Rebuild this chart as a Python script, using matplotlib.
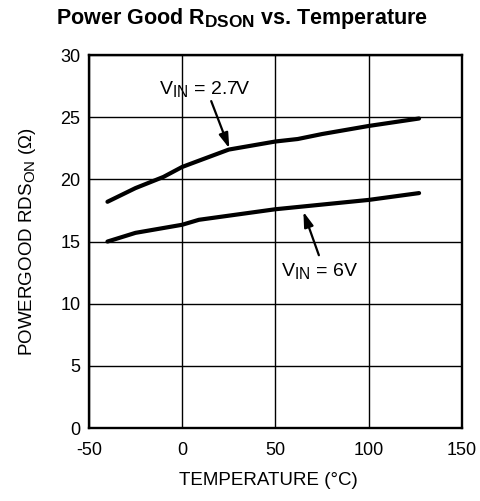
import matplotlib
matplotlib.use("Agg")
import matplotlib.pyplot as plt

try:
    # subscritos maiores, como no gráfico original
    import matplotlib._mathtext as _mt
    _mt.SHRINK_FACTOR = 0.8
except Exception:
    pass

plt.rcParams['font.family'] = ['Liberation Sans', 'DejaVu Sans']
plt.rcParams['mathtext.fontset'] = 'custom'
plt.rcParams['mathtext.rm'] = 'Liberation Sans'
plt.rcParams['mathtext.it'] = 'Liberation Sans'
plt.rcParams['mathtext.bf'] = 'Liberation Sans:bold'
plt.rcParams['axes.unicode_minus'] = False

# dados
temp = [-40, -25, -10, 0, 8, 25, 50, 62, 75, 100, 127]
rds_27v = [18.2, 19.3, 20.2, 21.0, 21.45, 22.4, 23.05, 23.25, 23.65, 24.3, 24.9]
temp_6v = [-40, -25, 0, 9, 50, 100, 127]
rds_6v = [15.0, 15.7, 16.35, 16.75, 17.6, 18.35, 18.9]

xticks = [-50, 0, 50, 100, 150]
yticks = [0, 5, 10, 15, 20, 25, 30]

fig = plt.figure(figsize=(4.8, 5.01), dpi=100)
ax = fig.add_axes([0.185, 0.1457, 0.7775, 0.7443])

ax.plot(temp, rds_27v, color='black', lw=3.0, solid_capstyle='round')
ax.plot(temp_6v, rds_6v, color='black', lw=3.0, solid_capstyle='round')

ax.set_xlim(-48, 150)
ax.set_ylim(0, 30)
ax.set_xticks(xticks)
ax.set_yticks(yticks)
ax.tick_params(axis='both', length=0, labelsize=13)
ax.tick_params(axis='x', pad=10)
ax.tick_params(axis='y', pad=6)
ax.grid(True, color='black', lw=1.0)
for s in ax.spines.values():
    s.set_linewidth(1.7)

ax.set_xlabel('TEMPERATURE (°C)', fontsize=13.5, va='top')
ax.xaxis.set_label_coords(0.48, -0.118)
ax.set_ylabel('POWERGOOD RDS$_{\\mathrm{ON}}$ (Ω)', fontsize=13.5)
ax.yaxis.set_label_coords(-0.135, 0.5)
fig.text(0.504, 0.953, 'Power Good R$_{\\mathbf{DSON}}$ vs. Temperature',
         ha='center', va='baseline', fontsize=15.5, fontweight='bold')

seta = dict(arrowstyle='-|>,head_length=0.9,head_width=0.28',
            color='black', lw=1.6, shrinkA=0, shrinkB=0)
ax.annotate('', xy=(25.3, 22.5), xytext=(15.6, 26.3), arrowprops=seta)
ax.annotate('', xy=(65, 17.4), xytext=(73.3, 13.9), arrowprops=seta)
ax.text(-12.5, 26.9, 'V$_{\\mathrm{IN}}$ = 2.7V', ha='left', va='baseline', fontsize=14)
ax.text(52.8, 12.2, 'V$_{\\mathrm{IN}}$ = 6V', ha='left', va='baseline', fontsize=14)

fig.savefig('out.png', dpi=100)
